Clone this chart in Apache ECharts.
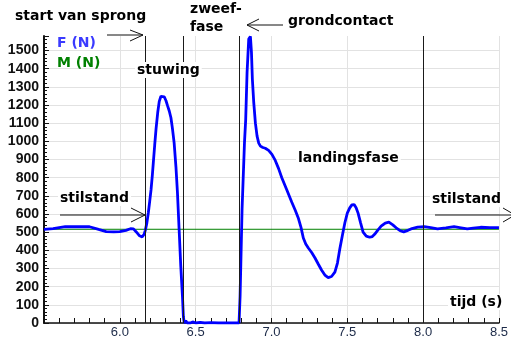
<!DOCTYPE html>
<html>
<head>
<meta charset="utf-8">
<script src="https://cdn.jsdelivr.net/npm/echarts@6/dist/echarts.min.js"></script>
<style>
html,body{margin:0;padding:0;background:#fff;}
#c{width:511px;height:341px;}
</style>
</head>
<body>
<div id="c"></div>
<script>
// ---- data ----
var timeS = [5.50,5.56,5.64,5.72,5.80,5.86,5.91,5.96,6.00,6.04,6.07,6.09,6.11,6.13,6.147,6.16,6.168,6.178,6.188,6.197,6.206,6.214,6.221,6.230,6.239,6.250,6.260,6.271,6.282,6.293,6.304,6.315,6.326,6.337,6.347,6.358,6.370,6.380,6.391,6.402,6.413,6.419,6.425,6.435,6.445,6.455,6.465,6.48,6.50,6.53,6.56,6.60,6.65,6.70,6.75,6.786,6.793,6.806,6.822,6.830,6.839,6.850,6.861,6.868,6.874,6.883,6.894,6.905,6.916,6.927,6.943,6.959,6.981,7.003,7.025,7.047,7.068,7.10,7.134,7.156,7.178,7.195,7.210,7.226,7.243,7.265,7.287,7.310,7.330,7.352,7.374,7.396,7.418,7.435,7.451,7.468,7.484,7.500,7.516,7.530,7.545,7.558,7.571,7.588,7.604,7.625,7.647,7.665,7.680,7.700,7.723,7.750,7.774,7.800,7.822,7.848,7.872,7.900,7.920,7.964,8.008,8.05,8.095,8.15,8.204,8.25,8.291,8.33,8.379,8.44,8.50];
var forceN = [515,520,530,531,530,515,503,502,503,510,519,518,500,480,474,488,510,550,607,670,735,810,884,980,1070,1160,1220,1248,1254,1245,1225,1195,1167,1130,1070,993,860,717,515,312,147,36,0,12,0,8,0,6,0,4,0,2,0,0,0,0,147,625,994,1120,1379,1563,1578,1489,1342,1215,1100,1029,990,974,966,962,950,928,895,850,800,735,665,622,575,525,468,435,413,388,358,322,292,264,250,256,280,330,410,485,552,605,634,650,652,635,605,550,500,478,472,476,488,510,533,550,555,540,524,508,502,510,518,528,530,525,518,524,530,524,518,522,527,525,525];
var massTime = [5.5, 8.5];
var massN = [516, 516];
var phaseTimes = [6.173, 6.419, 6.793, 8.0];
var xTicks = {min: 5.5, max: 8.5, step: 0.5};
var yTicks = {min: 0, max: 1580, step: 100};
var labels = {
  start: 'start van sprong', zweef1: 'zweef-', zweef2: 'fase', ground: 'grondcontact',
  f: 'F (N)', m: 'M (N)', stuwing: 'stuwing', landing: 'landingsfase',
  still: 'stilstand', tijd: 'tijd (s)'
};

// ---- chart ----
var fData = timeS.map(function (t, i) { return [t, forceN[i]]; });
var mData = massTime.map(function (t, i) { return [t, massN[i]]; });
var nY = Math.floor((yTicks.max - yTicks.min) / yTicks.step) + 2;
var yGridColors = [];
for (var i = 0; i < nY; i++) yGridColors.push(i === nY - 1 ? 'rgba(0,0,0,0)' : '#e2e2e2');

var annFont = 'bold 14px "DejaVu Sans"';
function txt(str, x, y, color, bg) {
  return {
    type: 'text', left: x, top: y - 9, z: 100,
    style: {
      text: str, fill: color || '#000', font: annFont,
      backgroundColor: bg ? '#fff' : null, padding: bg ? [1, 2] : 0
    }
  };
}
function arrow(pts) {
  return { type: 'polyline', z: 100, shape: { points: pts }, style: { stroke: '#111', lineWidth: 1, fill: null } };
}

var chart = echarts.init(document.getElementById('c'), null, { renderer: 'canvas' });
chart.setOption({
  animation: false,
  backgroundColor: '#fff',
  grid: { left: 44, right: 9, top: 36, bottom: 18, containLabel: false },
  xAxis: {
    type: 'value', min: xTicks.min, max: xTicks.max, interval: xTicks.step,
    axisLine: { onZero: false, lineStyle: { color: '#111', width: 1.5 } },
    axisTick: { inside: true, length: 5, lineStyle: { color: '#111' } },
    minorTick: { show: true, splitNumber: 5, length: 5, lineStyle: { color: '#111' } },
    splitLine: { show: true, lineStyle: { color: '#e2e2e2', width: 1 } },
    axisLabel: {
      margin: 3, color: '#1c2a48', fontFamily: 'Liberation Sans', fontSize: 13,
      formatter: function (v) { return Math.abs(v - xTicks.min) < 1e-6 ? '' : v.toFixed(1); }
    }
  },
  yAxis: {
    type: 'value', min: yTicks.min, max: yTicks.max, interval: yTicks.step,
    axisLine: { onZero: false, lineStyle: { color: '#111', width: 2 } },
    axisTick: { inside: true, length: 5, lineStyle: { color: '#111' } },
    minorTick: { show: true, splitNumber: 5, length: 3, lineStyle: { color: '#111' } },
    splitLine: { show: true, lineStyle: { color: yGridColors, width: 1 } },
    axisLabel: {
      margin: 5, color: '#111', fontFamily: 'Liberation Sans', fontSize: 14, fontWeight: 'bold',
      formatter: function (v) { return (v % 100 === 0) ? String(v) : ''; }
    }
  },
  series: [
    {
      name: 'M (N)', type: 'line', data: mData, symbol: 'none', silent: true,
      lineStyle: { color: '#008000', width: 1 }, z: 2,
      markLine: {
        silent: true, symbol: 'none', label: { show: false },
        lineStyle: { color: '#1a1a1a', width: 1, type: 'solid' },
        data: phaseTimes.map(function (t) { return { xAxis: t }; })
      }
    },
    {
      name: 'F (N)', type: 'line', data: fData, symbol: 'none', silent: true,
      lineStyle: { color: '#0000ff', width: 2.8 }, z: 3
    }
  ],
  graphic: [
    txt(labels.start, 15, 18),
    arrow([[107, 35], [143, 35]]),
    arrow([[130, 30], [143, 35], [130, 41]]),
    txt(labels.zweef1, 190, 11),
    txt(labels.zweef2, 190, 29),
    txt(labels.ground, 288, 23),
    arrow([[247, 25], [283, 25]]),
    arrow([[259, 19], [247, 25], [259, 31]]),
    txt(labels.f, 57, 45, '#3a3aff'),
    txt(labels.m, 57, 65, '#008000'),
    txt(labels.stuwing, 135, 71, '#000', true),
    txt(labels.landing, 296, 159, '#000', true),
    txt(labels.still, 58, 199, '#000', true),
    arrow([[60, 215], [145, 215]]),
    arrow([[131, 208], [145, 215], [131, 222]]),
    txt(labels.still, 430, 200, '#000', true),
    arrow([[435, 215], [511, 215]]),
    arrow([[503, 208], [515, 215], [503, 222]]),
    txt(labels.tijd, 448, 303, '#000', true)
  ]
});
</script>
</body>
</html>
